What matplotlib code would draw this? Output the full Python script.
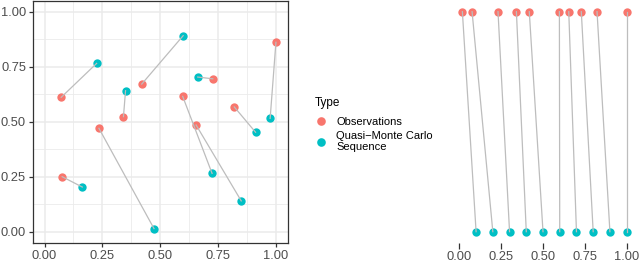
import numpy as np
import matplotlib.pyplot as plt
from matplotlib.lines import Line2D

plt.rcParams['font.family'] = ['Liberation Sans', 'DejaVu Sans']

# 2D panel: observations and their matched quasi-Monte Carlo points (same order)
obs_x = [0.072, 0.076, 0.235, 0.341, 0.420, 0.597, 0.655, 0.727, 0.820, 1.000]
obs_y = [0.611, 0.250, 0.470, 0.523, 0.671, 0.615, 0.485, 0.695, 0.567, 0.861]
qmc_x = [0.225, 0.163, 0.473, 0.350, 0.599, 0.724, 0.850, 0.662, 0.912, 0.975]
qmc_y = [0.765, 0.203, 0.014, 0.641, 0.891, 0.265, 0.140, 0.703, 0.452, 0.515]

# 1D panel: sorted observations (top) matched to the sequence (bottom)
obs_1d = [0.018, 0.076, 0.231, 0.341, 0.418, 0.598, 0.654, 0.729, 0.823, 1.000]
qmc_1d = [0.1, 0.2, 0.3, 0.4, 0.5, 0.6, 0.7, 0.8, 0.9, 1.0]

ticks = [0.0, 0.25, 0.5, 0.75, 1.0]
tick_labels = ['0.00', '0.25', '0.50', '0.75', '1.00']

RED = '#F8766D'
CYAN = '#00BFC4'
LINE = '#BDBDBD'
DARK = '#333333'
TXT = '#4D4D4D'
MS = 36

fig = plt.figure(figsize=(6.4, 2.62), dpi=100)
ax1 = fig.add_axes([33/640, 19.3/262, 254.5/640, 242/262])
ax2 = fig.add_axes([451/640, 19.3/262, 184/640, 242/262])

# left panel
ax1.set_xlim(-0.05, 1.05)
ax1.set_ylim(-0.05, 1.05)
ax1.set_xticks(ticks, tick_labels)
ax1.set_yticks(ticks, tick_labels)
ax1.set_xticks([0.125, 0.375, 0.625, 0.875], minor=True)
ax1.set_yticks([0.125, 0.375, 0.625, 0.875], minor=True)
ax1.grid(which='major', color='#EBEBEB', lw=1.1, zorder=0)
ax1.grid(which='minor', color='#EBEBEB', lw=0.6, zorder=0)
ax1.tick_params(which='minor', length=0)
ax1.tick_params(which='major', length=3, width=0.9, color=DARK, labelsize=9.3,
                labelcolor=TXT, pad=2)
for s in ax1.spines.values():
    s.set_color(DARK)
    s.set_linewidth(0.9)
ax1.set_axisbelow(True)

ax1.scatter(obs_x, obs_y, s=MS, color=RED, lw=0, zorder=2)
ax1.scatter(qmc_x, qmc_y, s=MS, color=CYAN, lw=0, zorder=2)
for ox, oy, qx, qy in zip(obs_x, obs_y, qmc_x, qmc_y):
    ax1.plot([ox, qx], [oy, qy], color=LINE, lw=0.9, zorder=3)

# right panel
ax2.set_xlim(-0.05, 1.05)
ax2.set_ylim(-0.05, 1.05)
ax2.set_xticks(ticks, tick_labels)
ax2.set_yticks([])
for s in ax2.spines.values():
    s.set_visible(False)
ax2.tick_params(axis='x', length=4, width=0.9, color=DARK, labelsize=9.3,
                labelcolor=TXT, pad=2)
ax2.scatter(obs_1d, [1.0] * len(obs_1d), s=MS, color=RED, lw=0, zorder=2, clip_on=False)
ax2.scatter(qmc_1d, [0.0] * len(qmc_1d), s=MS, color=CYAN, lw=0, zorder=2, clip_on=False)
for o, q in zip(obs_1d, qmc_1d):
    ax2.plot([o, q], [1.0, 0.0], color=LINE, lw=0.9, zorder=3)

# legend
handles = [
    Line2D([], [], ls='', marker='o', ms=6.2, mfc=RED, mec='none'),
    Line2D([], [], ls='', marker='o', ms=6.2, mfc=CYAN, mec='none'),
]
leg = fig.legend(handles, ['Observations', 'Quasi\u2212Monte Carlo\nSequence'],
                 title='Type', loc='upper left', bbox_to_anchor=(305/640, 175/262),
                 frameon=False, fontsize=8, title_fontsize=8.5,
                 handlelength=1.0, handletextpad=0.9, labelspacing=0.3,
                 alignment='left')
leg._legend_box.sep = 6

fig.savefig('out.png', dpi=100)
